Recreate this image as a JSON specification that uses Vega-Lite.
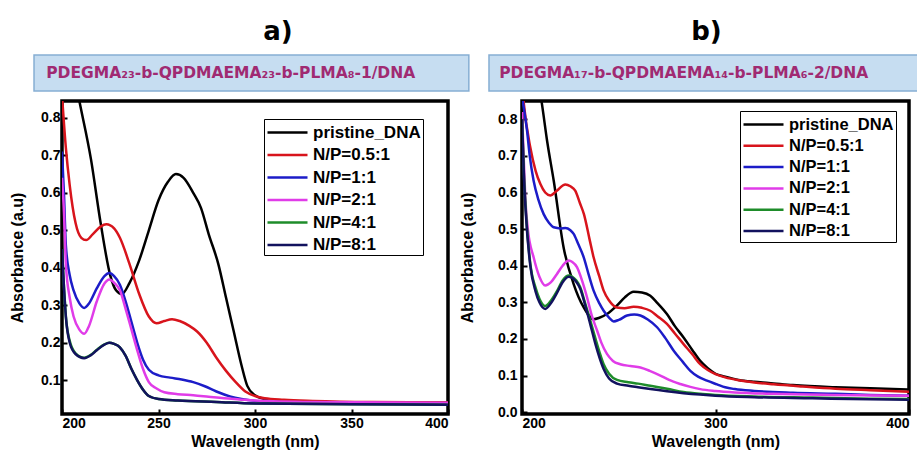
{
  "$schema": "https://vega.github.io/schema/vega-lite/v6.json",
  "background": "white",
  "padding": {"left": 7, "top": 19, "right": 0, "bottom": 0},
  "spacing": -13,
  "resolve": {"scale": {"color": "independent"}, "legend": {"color": "independent"}},
  "config": {
    "font": "Liberation Sans",
    "view": {"stroke": "black", "strokeWidth": 3.5},
    "axis": {"grid": false, "domain": false, "tickSize": -5, "tickColor": "black", "tickWidth": 2,
      "labelFont": "Liberation Sans", "labelFontWeight": "bold", "labelFontSize": 14, "labelColor": "black", "labelPadding": 7,
      "titleFont": "Liberation Sans", "titleFontWeight": "bold", "titleFontSize": 16, "titleColor": "black"},
    "legend": {"title": null, "symbolType": "M-1,0H3", "symbolSize": 400, "symbolStrokeWidth": 2.5,
      "labelFont": "Liberation Sans", "labelFontWeight": "bold", "labelFontSize": 17, "labelColor": "black",
      "strokeColor": "black", "fillColor": "white", "padding": 2, "rowPadding": 2.5, "labelOffset": 24},
    "title": {"font": "DejaVu Sans", "fontSize": 26, "fontWeight": "bold", "color": "black", "anchor": "middle", "offset": 9}
  },
  "datasets": {
    "a": [
      {"series": "pristine_DNA", "wavelength": 200, "absorbance": 1.1},
      {"series": "pristine_DNA", "wavelength": 205, "absorbance": 0.95},
      {"series": "pristine_DNA", "wavelength": 209, "absorbance": 0.845},
      {"series": "pristine_DNA", "wavelength": 215, "absorbance": 0.69},
      {"series": "pristine_DNA", "wavelength": 220, "absorbance": 0.52},
      {"series": "pristine_DNA", "wavelength": 225, "absorbance": 0.38},
      {"series": "pristine_DNA", "wavelength": 228, "absorbance": 0.34},
      {"series": "pristine_DNA", "wavelength": 231, "absorbance": 0.33},
      {"series": "pristine_DNA", "wavelength": 235, "absorbance": 0.36},
      {"series": "pristine_DNA", "wavelength": 240, "absorbance": 0.42},
      {"series": "pristine_DNA", "wavelength": 245, "absorbance": 0.5},
      {"series": "pristine_DNA", "wavelength": 250, "absorbance": 0.58},
      {"series": "pristine_DNA", "wavelength": 255, "absorbance": 0.63},
      {"series": "pristine_DNA", "wavelength": 259, "absorbance": 0.65},
      {"series": "pristine_DNA", "wavelength": 263, "absorbance": 0.64},
      {"series": "pristine_DNA", "wavelength": 268, "absorbance": 0.6},
      {"series": "pristine_DNA", "wavelength": 272, "absorbance": 0.56},
      {"series": "pristine_DNA", "wavelength": 276, "absorbance": 0.49},
      {"series": "pristine_DNA", "wavelength": 281, "absorbance": 0.41},
      {"series": "pristine_DNA", "wavelength": 285, "absorbance": 0.32},
      {"series": "pristine_DNA", "wavelength": 289, "absorbance": 0.23},
      {"series": "pristine_DNA", "wavelength": 293, "absorbance": 0.14},
      {"series": "pristine_DNA", "wavelength": 296, "absorbance": 0.085},
      {"series": "pristine_DNA", "wavelength": 300, "absorbance": 0.06},
      {"series": "pristine_DNA", "wavelength": 305, "absorbance": 0.05},
      {"series": "pristine_DNA", "wavelength": 310, "absorbance": 0.045},
      {"series": "pristine_DNA", "wavelength": 330, "absorbance": 0.042},
      {"series": "pristine_DNA", "wavelength": 360, "absorbance": 0.04},
      {"series": "pristine_DNA", "wavelength": 400, "absorbance": 0.04},

      {"series": "N/P=0.5:1", "wavelength": 200, "absorbance": 0.86},
      {"series": "N/P=0.5:1", "wavelength": 202, "absorbance": 0.72},
      {"series": "N/P=0.5:1", "wavelength": 204, "absorbance": 0.62},
      {"series": "N/P=0.5:1", "wavelength": 207, "absorbance": 0.52},
      {"series": "N/P=0.5:1", "wavelength": 210, "absorbance": 0.48},
      {"series": "N/P=0.5:1", "wavelength": 212.5, "absorbance": 0.474},
      {"series": "N/P=0.5:1", "wavelength": 216, "absorbance": 0.49},
      {"series": "N/P=0.5:1", "wavelength": 220, "absorbance": 0.51},
      {"series": "N/P=0.5:1", "wavelength": 223, "absorbance": 0.516},
      {"series": "N/P=0.5:1", "wavelength": 227, "absorbance": 0.505},
      {"series": "N/P=0.5:1", "wavelength": 230, "absorbance": 0.48},
      {"series": "N/P=0.5:1", "wavelength": 235, "absorbance": 0.41},
      {"series": "N/P=0.5:1", "wavelength": 240, "absorbance": 0.33},
      {"series": "N/P=0.5:1", "wavelength": 245, "absorbance": 0.27},
      {"series": "N/P=0.5:1", "wavelength": 249, "absorbance": 0.252},
      {"series": "N/P=0.5:1", "wavelength": 253, "absorbance": 0.258},
      {"series": "N/P=0.5:1", "wavelength": 257, "absorbance": 0.263},
      {"series": "N/P=0.5:1", "wavelength": 261, "absorbance": 0.258},
      {"series": "N/P=0.5:1", "wavelength": 266, "absorbance": 0.245},
      {"series": "N/P=0.5:1", "wavelength": 270, "absorbance": 0.23},
      {"series": "N/P=0.5:1", "wavelength": 275, "absorbance": 0.2},
      {"series": "N/P=0.5:1", "wavelength": 280, "absorbance": 0.16},
      {"series": "N/P=0.5:1", "wavelength": 285, "absorbance": 0.125},
      {"series": "N/P=0.5:1", "wavelength": 290, "absorbance": 0.095},
      {"series": "N/P=0.5:1", "wavelength": 295, "absorbance": 0.07},
      {"series": "N/P=0.5:1", "wavelength": 300, "absorbance": 0.058},
      {"series": "N/P=0.5:1", "wavelength": 305, "absorbance": 0.052},
      {"series": "N/P=0.5:1", "wavelength": 315, "absorbance": 0.048},
      {"series": "N/P=0.5:1", "wavelength": 330, "absorbance": 0.045},
      {"series": "N/P=0.5:1", "wavelength": 360, "absorbance": 0.042},
      {"series": "N/P=0.5:1", "wavelength": 400, "absorbance": 0.041},

      {"series": "N/P=1:1", "wavelength": 200, "absorbance": 0.71},
      {"series": "N/P=1:1", "wavelength": 201, "absorbance": 0.6},
      {"series": "N/P=1:1", "wavelength": 202, "absorbance": 0.46},
      {"series": "N/P=1:1", "wavelength": 204, "absorbance": 0.38},
      {"series": "N/P=1:1", "wavelength": 206, "absorbance": 0.34},
      {"series": "N/P=1:1", "wavelength": 209, "absorbance": 0.305},
      {"series": "N/P=1:1", "wavelength": 211.5, "absorbance": 0.293},
      {"series": "N/P=1:1", "wavelength": 214, "absorbance": 0.305},
      {"series": "N/P=1:1", "wavelength": 218, "absorbance": 0.345},
      {"series": "N/P=1:1", "wavelength": 222, "absorbance": 0.378},
      {"series": "N/P=1:1", "wavelength": 224.5, "absorbance": 0.386},
      {"series": "N/P=1:1", "wavelength": 227, "absorbance": 0.378},
      {"series": "N/P=1:1", "wavelength": 230, "absorbance": 0.355},
      {"series": "N/P=1:1", "wavelength": 233, "absorbance": 0.31},
      {"series": "N/P=1:1", "wavelength": 236, "absorbance": 0.255},
      {"series": "N/P=1:1", "wavelength": 239, "absorbance": 0.2},
      {"series": "N/P=1:1", "wavelength": 242, "absorbance": 0.155},
      {"series": "N/P=1:1", "wavelength": 245, "absorbance": 0.128},
      {"series": "N/P=1:1", "wavelength": 250, "absorbance": 0.113},
      {"series": "N/P=1:1", "wavelength": 256, "absorbance": 0.107},
      {"series": "N/P=1:1", "wavelength": 262, "absorbance": 0.102},
      {"series": "N/P=1:1", "wavelength": 268, "absorbance": 0.095},
      {"series": "N/P=1:1", "wavelength": 274, "absorbance": 0.084},
      {"series": "N/P=1:1", "wavelength": 280, "absorbance": 0.07},
      {"series": "N/P=1:1", "wavelength": 287, "absorbance": 0.057},
      {"series": "N/P=1:1", "wavelength": 293, "absorbance": 0.05},
      {"series": "N/P=1:1", "wavelength": 300, "absorbance": 0.045},
      {"series": "N/P=1:1", "wavelength": 320, "absorbance": 0.04},
      {"series": "N/P=1:1", "wavelength": 360, "absorbance": 0.038},
      {"series": "N/P=1:1", "wavelength": 400, "absorbance": 0.037},

      {"series": "N/P=2:1", "wavelength": 200, "absorbance": 0.64},
      {"series": "N/P=2:1", "wavelength": 201, "absorbance": 0.55},
      {"series": "N/P=2:1", "wavelength": 202, "absorbance": 0.41},
      {"series": "N/P=2:1", "wavelength": 204, "absorbance": 0.32},
      {"series": "N/P=2:1", "wavelength": 206, "absorbance": 0.27},
      {"series": "N/P=2:1", "wavelength": 209, "absorbance": 0.235},
      {"series": "N/P=2:1", "wavelength": 211.5, "absorbance": 0.224},
      {"series": "N/P=2:1", "wavelength": 214, "absorbance": 0.245},
      {"series": "N/P=2:1", "wavelength": 218, "absorbance": 0.31},
      {"series": "N/P=2:1", "wavelength": 222, "absorbance": 0.358},
      {"series": "N/P=2:1", "wavelength": 224.5, "absorbance": 0.369},
      {"series": "N/P=2:1", "wavelength": 227, "absorbance": 0.36},
      {"series": "N/P=2:1", "wavelength": 230, "absorbance": 0.34},
      {"series": "N/P=2:1", "wavelength": 233, "absorbance": 0.29},
      {"series": "N/P=2:1", "wavelength": 236, "absorbance": 0.235},
      {"series": "N/P=2:1", "wavelength": 239, "absorbance": 0.18},
      {"series": "N/P=2:1", "wavelength": 242, "absorbance": 0.13},
      {"series": "N/P=2:1", "wavelength": 245, "absorbance": 0.095},
      {"series": "N/P=2:1", "wavelength": 249, "absorbance": 0.078},
      {"series": "N/P=2:1", "wavelength": 253, "absorbance": 0.068},
      {"series": "N/P=2:1", "wavelength": 260, "absorbance": 0.063},
      {"series": "N/P=2:1", "wavelength": 268, "absorbance": 0.06},
      {"series": "N/P=2:1", "wavelength": 276, "absorbance": 0.056},
      {"series": "N/P=2:1", "wavelength": 284, "absorbance": 0.052},
      {"series": "N/P=2:1", "wavelength": 292, "absorbance": 0.049},
      {"series": "N/P=2:1", "wavelength": 300, "absorbance": 0.046},
      {"series": "N/P=2:1", "wavelength": 330, "absorbance": 0.042},
      {"series": "N/P=2:1", "wavelength": 400, "absorbance": 0.04},

      {"series": "N/P=4:1", "wavelength": 200, "absorbance": 0.45},
      {"series": "N/P=4:1", "wavelength": 201, "absorbance": 0.35},
      {"series": "N/P=4:1", "wavelength": 202, "absorbance": 0.27},
      {"series": "N/P=4:1", "wavelength": 204, "absorbance": 0.205},
      {"series": "N/P=4:1", "wavelength": 207, "absorbance": 0.172},
      {"series": "N/P=4:1", "wavelength": 211.5, "absorbance": 0.16},
      {"series": "N/P=4:1", "wavelength": 215, "absorbance": 0.168},
      {"series": "N/P=4:1", "wavelength": 218, "absorbance": 0.181},
      {"series": "N/P=4:1", "wavelength": 222, "absorbance": 0.196},
      {"series": "N/P=4:1", "wavelength": 224.5, "absorbance": 0.2},
      {"series": "N/P=4:1", "wavelength": 227, "absorbance": 0.197},
      {"series": "N/P=4:1", "wavelength": 230, "absorbance": 0.188},
      {"series": "N/P=4:1", "wavelength": 233, "absorbance": 0.165},
      {"series": "N/P=4:1", "wavelength": 236, "absorbance": 0.13},
      {"series": "N/P=4:1", "wavelength": 239, "absorbance": 0.1},
      {"series": "N/P=4:1", "wavelength": 242, "absorbance": 0.075},
      {"series": "N/P=4:1", "wavelength": 245, "absorbance": 0.058},
      {"series": "N/P=4:1", "wavelength": 250, "absorbance": 0.05},
      {"series": "N/P=4:1", "wavelength": 260, "absorbance": 0.046},
      {"series": "N/P=4:1", "wavelength": 280, "absorbance": 0.042},
      {"series": "N/P=4:1", "wavelength": 300, "absorbance": 0.038},
      {"series": "N/P=4:1", "wavelength": 350, "absorbance": 0.036},
      {"series": "N/P=4:1", "wavelength": 400, "absorbance": 0.035},

      {"series": "N/P=8:1", "wavelength": 200, "absorbance": 0.45},
      {"series": "N/P=8:1", "wavelength": 201, "absorbance": 0.35},
      {"series": "N/P=8:1", "wavelength": 202, "absorbance": 0.27},
      {"series": "N/P=8:1", "wavelength": 204, "absorbance": 0.2},
      {"series": "N/P=8:1", "wavelength": 207, "absorbance": 0.17},
      {"series": "N/P=8:1", "wavelength": 211.5, "absorbance": 0.159},
      {"series": "N/P=8:1", "wavelength": 215, "absorbance": 0.167},
      {"series": "N/P=8:1", "wavelength": 218, "absorbance": 0.18},
      {"series": "N/P=8:1", "wavelength": 222, "absorbance": 0.195},
      {"series": "N/P=8:1", "wavelength": 224.5, "absorbance": 0.2},
      {"series": "N/P=8:1", "wavelength": 227, "absorbance": 0.197},
      {"series": "N/P=8:1", "wavelength": 230, "absorbance": 0.188},
      {"series": "N/P=8:1", "wavelength": 233, "absorbance": 0.165},
      {"series": "N/P=8:1", "wavelength": 236, "absorbance": 0.13},
      {"series": "N/P=8:1", "wavelength": 239, "absorbance": 0.1},
      {"series": "N/P=8:1", "wavelength": 242, "absorbance": 0.075},
      {"series": "N/P=8:1", "wavelength": 245, "absorbance": 0.058},
      {"series": "N/P=8:1", "wavelength": 250, "absorbance": 0.05},
      {"series": "N/P=8:1", "wavelength": 260, "absorbance": 0.046},
      {"series": "N/P=8:1", "wavelength": 280, "absorbance": 0.042},
      {"series": "N/P=8:1", "wavelength": 300, "absorbance": 0.038},
      {"series": "N/P=8:1", "wavelength": 350, "absorbance": 0.036},
      {"series": "N/P=8:1", "wavelength": 400, "absorbance": 0.035}
    ],
    "b": [
      {"series": "pristine_DNA", "wavelength": 205, "absorbance": 1.0},
      {"series": "pristine_DNA", "wavelength": 210.3, "absorbance": 0.842},
      {"series": "pristine_DNA", "wavelength": 213, "absorbance": 0.74},
      {"series": "pristine_DNA", "wavelength": 216.4, "absorbance": 0.632},
      {"series": "pristine_DNA", "wavelength": 221.5, "absorbance": 0.45},
      {"series": "pristine_DNA", "wavelength": 226.7, "absorbance": 0.35},
      {"series": "pristine_DNA", "wavelength": 231.9, "absorbance": 0.286},
      {"series": "pristine_DNA", "wavelength": 237, "absorbance": 0.254},
      {"series": "pristine_DNA", "wavelength": 240, "absorbance": 0.258},
      {"series": "pristine_DNA", "wavelength": 243.9, "absorbance": 0.268},
      {"series": "pristine_DNA", "wavelength": 249, "absorbance": 0.291},
      {"series": "pristine_DNA", "wavelength": 253, "absorbance": 0.313},
      {"series": "pristine_DNA", "wavelength": 257.7, "absorbance": 0.329},
      {"series": "pristine_DNA", "wavelength": 262, "absorbance": 0.327},
      {"series": "pristine_DNA", "wavelength": 266.3, "absorbance": 0.318},
      {"series": "pristine_DNA", "wavelength": 270, "absorbance": 0.298},
      {"series": "pristine_DNA", "wavelength": 274.9, "absorbance": 0.268},
      {"series": "pristine_DNA", "wavelength": 279, "absorbance": 0.235},
      {"series": "pristine_DNA", "wavelength": 283.5, "absorbance": 0.204},
      {"series": "pristine_DNA", "wavelength": 288, "absorbance": 0.17},
      {"series": "pristine_DNA", "wavelength": 292.1, "absorbance": 0.14},
      {"series": "pristine_DNA", "wavelength": 296, "absorbance": 0.12},
      {"series": "pristine_DNA", "wavelength": 300, "absorbance": 0.105},
      {"series": "pristine_DNA", "wavelength": 305, "absorbance": 0.097},
      {"series": "pristine_DNA", "wavelength": 312, "absorbance": 0.088},
      {"series": "pristine_DNA", "wavelength": 320, "absorbance": 0.083},
      {"series": "pristine_DNA", "wavelength": 327.5, "absorbance": 0.08},
      {"series": "pristine_DNA", "wavelength": 340, "absorbance": 0.074},
      {"series": "pristine_DNA", "wavelength": 362, "absorbance": 0.068},
      {"series": "pristine_DNA", "wavelength": 380, "absorbance": 0.065},
      {"series": "pristine_DNA", "wavelength": 400, "absorbance": 0.062},

      {"series": "N/P=0.5:1", "wavelength": 200, "absorbance": 0.9},
      {"series": "N/P=0.5:1", "wavelength": 201, "absorbance": 0.84},
      {"series": "N/P=0.5:1", "wavelength": 204.3, "absorbance": 0.723},
      {"series": "N/P=0.5:1", "wavelength": 207, "absorbance": 0.66},
      {"series": "N/P=0.5:1", "wavelength": 209.5, "absorbance": 0.623},
      {"series": "N/P=0.5:1", "wavelength": 212, "absorbance": 0.6},
      {"series": "N/P=0.5:1", "wavelength": 214.6, "absorbance": 0.592},
      {"series": "N/P=0.5:1", "wavelength": 218, "absorbance": 0.605},
      {"series": "N/P=0.5:1", "wavelength": 222.4, "absorbance": 0.622},
      {"series": "N/P=0.5:1", "wavelength": 225, "absorbance": 0.617},
      {"series": "N/P=0.5:1", "wavelength": 227.5, "absorbance": 0.605},
      {"series": "N/P=0.5:1", "wavelength": 230, "absorbance": 0.57},
      {"series": "N/P=0.5:1", "wavelength": 232, "absorbance": 0.541},
      {"series": "N/P=0.5:1", "wavelength": 235, "absorbance": 0.47},
      {"series": "N/P=0.5:1", "wavelength": 237, "absorbance": 0.423},
      {"series": "N/P=0.5:1", "wavelength": 240, "absorbance": 0.37},
      {"series": "N/P=0.5:1", "wavelength": 242.2, "absorbance": 0.332},
      {"series": "N/P=0.5:1", "wavelength": 245, "absorbance": 0.305},
      {"series": "N/P=0.5:1", "wavelength": 249, "absorbance": 0.286},
      {"series": "N/P=0.5:1", "wavelength": 253, "absorbance": 0.284},
      {"series": "N/P=0.5:1", "wavelength": 257.7, "absorbance": 0.288},
      {"series": "N/P=0.5:1", "wavelength": 262, "absorbance": 0.285},
      {"series": "N/P=0.5:1", "wavelength": 266.3, "absorbance": 0.277},
      {"series": "N/P=0.5:1", "wavelength": 270, "absorbance": 0.262},
      {"series": "N/P=0.5:1", "wavelength": 274.9, "absorbance": 0.241},
      {"series": "N/P=0.5:1", "wavelength": 279, "absorbance": 0.215},
      {"series": "N/P=0.5:1", "wavelength": 283.5, "absorbance": 0.186},
      {"series": "N/P=0.5:1", "wavelength": 288, "absorbance": 0.158},
      {"series": "N/P=0.5:1", "wavelength": 292.1, "absorbance": 0.131},
      {"series": "N/P=0.5:1", "wavelength": 296, "absorbance": 0.115},
      {"series": "N/P=0.5:1", "wavelength": 300, "absorbance": 0.104},
      {"series": "N/P=0.5:1", "wavelength": 305, "absorbance": 0.095},
      {"series": "N/P=0.5:1", "wavelength": 312, "absorbance": 0.087},
      {"series": "N/P=0.5:1", "wavelength": 320, "absorbance": 0.081},
      {"series": "N/P=0.5:1", "wavelength": 330, "absorbance": 0.076},
      {"series": "N/P=0.5:1", "wavelength": 345, "absorbance": 0.07},
      {"series": "N/P=0.5:1", "wavelength": 362, "absorbance": 0.064},
      {"series": "N/P=0.5:1", "wavelength": 380, "absorbance": 0.06},
      {"series": "N/P=0.5:1", "wavelength": 400, "absorbance": 0.056},

      {"series": "N/P=1:1", "wavelength": 200, "absorbance": 0.86},
      {"series": "N/P=1:1", "wavelength": 202.6, "absorbance": 0.769},
      {"series": "N/P=1:1", "wavelength": 204, "absorbance": 0.7},
      {"series": "N/P=1:1", "wavelength": 206, "absorbance": 0.632},
      {"series": "N/P=1:1", "wavelength": 208.5, "absorbance": 0.58},
      {"series": "N/P=1:1", "wavelength": 211.2, "absorbance": 0.541},
      {"series": "N/P=1:1", "wavelength": 214, "absorbance": 0.517},
      {"series": "N/P=1:1", "wavelength": 216.4, "absorbance": 0.505},
      {"series": "N/P=1:1", "wavelength": 220, "absorbance": 0.502},
      {"series": "N/P=1:1", "wavelength": 222.4, "absorbance": 0.503},
      {"series": "N/P=1:1", "wavelength": 225, "absorbance": 0.497},
      {"series": "N/P=1:1", "wavelength": 226.7, "absorbance": 0.487},
      {"series": "N/P=1:1", "wavelength": 229, "absorbance": 0.46},
      {"series": "N/P=1:1", "wavelength": 231.9, "absorbance": 0.423},
      {"series": "N/P=1:1", "wavelength": 234.5, "absorbance": 0.375},
      {"series": "N/P=1:1", "wavelength": 237, "absorbance": 0.332},
      {"series": "N/P=1:1", "wavelength": 240, "absorbance": 0.297},
      {"series": "N/P=1:1", "wavelength": 242.2, "absorbance": 0.277},
      {"series": "N/P=1:1", "wavelength": 245, "absorbance": 0.258},
      {"series": "N/P=1:1", "wavelength": 247.4, "absorbance": 0.248},
      {"series": "N/P=1:1", "wavelength": 250, "absorbance": 0.252},
      {"series": "N/P=1:1", "wavelength": 254.3, "absorbance": 0.264},
      {"series": "N/P=1:1", "wavelength": 258, "absorbance": 0.267},
      {"series": "N/P=1:1", "wavelength": 261.2, "absorbance": 0.264},
      {"series": "N/P=1:1", "wavelength": 265, "absorbance": 0.253},
      {"series": "N/P=1:1", "wavelength": 269.8, "absorbance": 0.232},
      {"series": "N/P=1:1", "wavelength": 274, "absorbance": 0.203},
      {"series": "N/P=1:1", "wavelength": 278.4, "absorbance": 0.168},
      {"series": "N/P=1:1", "wavelength": 283, "absorbance": 0.138},
      {"series": "N/P=1:1", "wavelength": 287, "absorbance": 0.113},
      {"series": "N/P=1:1", "wavelength": 291, "absorbance": 0.097},
      {"series": "N/P=1:1", "wavelength": 295.6, "absorbance": 0.086},
      {"series": "N/P=1:1", "wavelength": 300.8, "absorbance": 0.076},
      {"series": "N/P=1:1", "wavelength": 305, "absorbance": 0.068},
      {"series": "N/P=1:1", "wavelength": 310, "absorbance": 0.063},
      {"series": "N/P=1:1", "wavelength": 320, "absorbance": 0.058},
      {"series": "N/P=1:1", "wavelength": 340, "absorbance": 0.053},
      {"series": "N/P=1:1", "wavelength": 362, "absorbance": 0.05},
      {"series": "N/P=1:1", "wavelength": 380, "absorbance": 0.047},
      {"series": "N/P=1:1", "wavelength": 400, "absorbance": 0.045},

      {"series": "N/P=2:1", "wavelength": 200, "absorbance": 0.82},
      {"series": "N/P=2:1", "wavelength": 201, "absorbance": 0.68},
      {"series": "N/P=2:1", "wavelength": 201.7, "absorbance": 0.587},
      {"series": "N/P=2:1", "wavelength": 203, "absorbance": 0.5},
      {"series": "N/P=2:1", "wavelength": 206, "absorbance": 0.423},
      {"series": "N/P=2:1", "wavelength": 209, "absorbance": 0.37},
      {"series": "N/P=2:1", "wavelength": 212, "absorbance": 0.346},
      {"series": "N/P=2:1", "wavelength": 215, "absorbance": 0.355},
      {"series": "N/P=2:1", "wavelength": 218, "absorbance": 0.377},
      {"series": "N/P=2:1", "wavelength": 221, "absorbance": 0.4},
      {"series": "N/P=2:1", "wavelength": 224.1, "absorbance": 0.414},
      {"series": "N/P=2:1", "wavelength": 226, "absorbance": 0.41},
      {"series": "N/P=2:1", "wavelength": 228.4, "absorbance": 0.396},
      {"series": "N/P=2:1", "wavelength": 231, "absorbance": 0.36},
      {"series": "N/P=2:1", "wavelength": 233.6, "absorbance": 0.314},
      {"series": "N/P=2:1", "wavelength": 236, "absorbance": 0.265},
      {"series": "N/P=2:1", "wavelength": 238.8, "absorbance": 0.223},
      {"series": "N/P=2:1", "wavelength": 241, "absorbance": 0.19},
      {"series": "N/P=2:1", "wavelength": 243.9, "absorbance": 0.159},
      {"series": "N/P=2:1", "wavelength": 247, "absorbance": 0.14},
      {"series": "N/P=2:1", "wavelength": 250.8, "absorbance": 0.131},
      {"series": "N/P=2:1", "wavelength": 256, "absorbance": 0.126},
      {"series": "N/P=2:1", "wavelength": 261.2, "absorbance": 0.122},
      {"series": "N/P=2:1", "wavelength": 266, "absorbance": 0.113},
      {"series": "N/P=2:1", "wavelength": 271.5, "absorbance": 0.1},
      {"series": "N/P=2:1", "wavelength": 276, "absorbance": 0.088},
      {"series": "N/P=2:1", "wavelength": 281.8, "absorbance": 0.077},
      {"series": "N/P=2:1", "wavelength": 287, "absorbance": 0.069},
      {"series": "N/P=2:1", "wavelength": 292.1, "absorbance": 0.063},
      {"series": "N/P=2:1", "wavelength": 300, "absorbance": 0.058},
      {"series": "N/P=2:1", "wavelength": 310, "absorbance": 0.054},
      {"series": "N/P=2:1", "wavelength": 330, "absorbance": 0.05},
      {"series": "N/P=2:1", "wavelength": 360, "absorbance": 0.047},
      {"series": "N/P=2:1", "wavelength": 400, "absorbance": 0.045},

      {"series": "N/P=4:1", "wavelength": 200, "absorbance": 0.8},
      {"series": "N/P=4:1", "wavelength": 201, "absorbance": 0.65},
      {"series": "N/P=4:1", "wavelength": 202, "absorbance": 0.55},
      {"series": "N/P=4:1", "wavelength": 204.3, "absorbance": 0.405},
      {"series": "N/P=4:1", "wavelength": 207, "absorbance": 0.34},
      {"series": "N/P=4:1", "wavelength": 209, "absorbance": 0.31},
      {"series": "N/P=4:1", "wavelength": 212, "absorbance": 0.29},
      {"series": "N/P=4:1", "wavelength": 215, "absorbance": 0.305},
      {"series": "N/P=4:1", "wavelength": 218, "absorbance": 0.33},
      {"series": "N/P=4:1", "wavelength": 221, "absorbance": 0.36},
      {"series": "N/P=4:1", "wavelength": 224.1, "absorbance": 0.373},
      {"series": "N/P=4:1", "wavelength": 226, "absorbance": 0.37},
      {"series": "N/P=4:1", "wavelength": 228, "absorbance": 0.36},
      {"series": "N/P=4:1", "wavelength": 230.1, "absorbance": 0.341},
      {"series": "N/P=4:1", "wavelength": 232.5, "absorbance": 0.3},
      {"series": "N/P=4:1", "wavelength": 235.3, "absorbance": 0.25},
      {"series": "N/P=4:1", "wavelength": 238, "absorbance": 0.2},
      {"series": "N/P=4:1", "wavelength": 240, "absorbance": 0.165},
      {"series": "N/P=4:1", "wavelength": 242.2, "absorbance": 0.131},
      {"series": "N/P=4:1", "wavelength": 245, "absorbance": 0.105},
      {"series": "N/P=4:1", "wavelength": 249.1, "absorbance": 0.088},
      {"series": "N/P=4:1", "wavelength": 255, "absorbance": 0.082},
      {"series": "N/P=4:1", "wavelength": 260, "absorbance": 0.078},
      {"series": "N/P=4:1", "wavelength": 266.3, "absorbance": 0.072},
      {"series": "N/P=4:1", "wavelength": 275, "absorbance": 0.064},
      {"series": "N/P=4:1", "wavelength": 283.5, "absorbance": 0.055},
      {"series": "N/P=4:1", "wavelength": 292, "absorbance": 0.05},
      {"series": "N/P=4:1", "wavelength": 300, "absorbance": 0.047},
      {"series": "N/P=4:1", "wavelength": 320, "absorbance": 0.043},
      {"series": "N/P=4:1", "wavelength": 350, "absorbance": 0.04},
      {"series": "N/P=4:1", "wavelength": 380, "absorbance": 0.037},
      {"series": "N/P=4:1", "wavelength": 400, "absorbance": 0.036},

      {"series": "N/P=8:1", "wavelength": 200, "absorbance": 0.8},
      {"series": "N/P=8:1", "wavelength": 201, "absorbance": 0.64},
      {"series": "N/P=8:1", "wavelength": 202, "absorbance": 0.54},
      {"series": "N/P=8:1", "wavelength": 204.3, "absorbance": 0.4},
      {"series": "N/P=8:1", "wavelength": 207, "absorbance": 0.33},
      {"series": "N/P=8:1", "wavelength": 209, "absorbance": 0.3},
      {"series": "N/P=8:1", "wavelength": 212, "absorbance": 0.282},
      {"series": "N/P=8:1", "wavelength": 215, "absorbance": 0.298},
      {"series": "N/P=8:1", "wavelength": 218, "absorbance": 0.325},
      {"series": "N/P=8:1", "wavelength": 221, "absorbance": 0.355},
      {"series": "N/P=8:1", "wavelength": 224.1, "absorbance": 0.37},
      {"series": "N/P=8:1", "wavelength": 226, "absorbance": 0.367},
      {"series": "N/P=8:1", "wavelength": 228, "absorbance": 0.356},
      {"series": "N/P=8:1", "wavelength": 230.1, "absorbance": 0.337},
      {"series": "N/P=8:1", "wavelength": 232.5, "absorbance": 0.295},
      {"series": "N/P=8:1", "wavelength": 235.3, "absorbance": 0.24},
      {"series": "N/P=8:1", "wavelength": 238, "absorbance": 0.185},
      {"series": "N/P=8:1", "wavelength": 240, "absorbance": 0.15},
      {"series": "N/P=8:1", "wavelength": 242.2, "absorbance": 0.118},
      {"series": "N/P=8:1", "wavelength": 245, "absorbance": 0.092},
      {"series": "N/P=8:1", "wavelength": 249.1, "absorbance": 0.078},
      {"series": "N/P=8:1", "wavelength": 255, "absorbance": 0.072},
      {"series": "N/P=8:1", "wavelength": 260, "absorbance": 0.068},
      {"series": "N/P=8:1", "wavelength": 266.3, "absorbance": 0.063},
      {"series": "N/P=8:1", "wavelength": 275, "absorbance": 0.057},
      {"series": "N/P=8:1", "wavelength": 283.5, "absorbance": 0.052},
      {"series": "N/P=8:1", "wavelength": 292, "absorbance": 0.048},
      {"series": "N/P=8:1", "wavelength": 300, "absorbance": 0.045},
      {"series": "N/P=8:1", "wavelength": 320, "absorbance": 0.041},
      {"series": "N/P=8:1", "wavelength": 350, "absorbance": 0.038},
      {"series": "N/P=8:1", "wavelength": 380, "absorbance": 0.035},
      {"series": "N/P=8:1", "wavelength": 400, "absorbance": 0.034}
    ]
  },
  "hconcat": [
    {
      "spacing": 7,
      "vconcat": [
        {
          "width": 386, "height": 36,
          "view": {"stroke": null},
          "title": {"text": "a)", "dx": 23},
          "data": {"values": [{"label": "PDEGMA₂₃-b-QPDMAEMA₂₃-b-PLMA₈-1/DNA"}]},
          "layer": [
            {"mark": {"type": "rect", "fill": "#c6ddf1", "stroke": "#86aed3", "strokeWidth": 1.5},
             "encoding": {
               "x": {"datum": -0.0725, "type": "quantitative", "scale": {"domain": [0, 1]}, "axis": null},
               "x2": {"datum": 1.054},
               "y": {"datum": 0, "type": "quantitative", "scale": {"domain": [0, 1]}, "axis": null},
               "y2": {"datum": 1}}},
            {"mark": {"type": "text", "align": "left", "baseline": "middle", "font": "DejaVu Sans", "fontWeight": "bold", "fontSize": 15.5, "color": "#a02a72"},
             "encoding": {
               "x": {"datum": -0.041, "type": "quantitative"},
               "y": {"datum": 0.5, "type": "quantitative"},
               "text": {"field": "label"}}}
          ]
        },
        {
          "width": 386, "height": 313,
          "data": {"name": "a"},
          "mark": {"type": "line", "strokeWidth": 2.5, "clip": true, "interpolate": "monotone"},
          "encoding": {
            "x": {"field": "wavelength", "type": "quantitative", "scale": {"domain": [200, 400], "nice": false},
                  "axis": {"values": [200, 250, 300, 350, 400], "title": "Wavelength (nm)", "titlePadding": 3}},
            "y": {"field": "absorbance", "type": "quantitative", "scale": {"domain": [0.01, 0.845], "nice": false, "zero": false},
                  "axis": {"values": [0.1, 0.2, 0.3, 0.4, 0.5, 0.6, 0.7, 0.8], "format": ".1f", "title": "Absorbance (a.u)", "titlePadding": 15}},
            "color": {"field": "series", "type": "nominal",
                      "scale": {"domain": ["pristine_DNA", "N/P=0.5:1", "N/P=1:1", "N/P=2:1", "N/P=4:1", "N/P=8:1"],
                                "range": ["#000000", "#d8141c", "#1c1cc8", "#e03ce8", "#1e8c2a", "#12125e"]},
                      "legend": {"orient": "none", "legendX": 202, "legendY": 64}}
          }
        }
      ]
    },
    {
      "spacing": 7,
      "vconcat": [
        {
          "width": 387, "height": 36,
          "view": {"stroke": null},
          "title": {"text": "b)", "dx": -9},
          "data": {"values": [{"label": "PDEGMA₁₇-b-QPDMAEMA₁₄-b-PLMA₆-2/DNA"}]},
          "layer": [
            {"mark": {"type": "rect", "fill": "#c6ddf1", "stroke": "#86aed3", "strokeWidth": 1.5},
             "encoding": {
               "x": {"datum": -0.0853, "type": "quantitative", "scale": {"domain": [0, 1]}, "axis": null},
               "x2": {"datum": 1.03},
               "y": {"datum": 0, "type": "quantitative", "scale": {"domain": [0, 1]}, "axis": null},
               "y2": {"datum": 1}}},
            {"mark": {"type": "text", "align": "left", "baseline": "middle", "font": "DejaVu Sans", "fontWeight": "bold", "fontSize": 15.5, "color": "#a02a72"},
             "encoding": {
               "x": {"datum": -0.059, "type": "quantitative"},
               "y": {"datum": 0.5, "type": "quantitative"},
               "text": {"field": "label"}}}
          ]
        },
        {
          "width": 387, "height": 313,
          "data": {"name": "b"},
          "mark": {"type": "line", "strokeWidth": 2.5, "clip": true, "interpolate": "monotone"},
          "encoding": {
            "x": {"field": "wavelength", "type": "quantitative", "scale": {"domain": [200, 400], "nice": false},
                  "axis": {"values": [200, 300, 400], "title": "Wavelength (nm)", "titlePadding": 3}},
            "y": {"field": "absorbance", "type": "quantitative", "scale": {"domain": [-0.005, 0.85], "nice": false, "zero": false},
                  "axis": {"values": [0, 0.1, 0.2, 0.3, 0.4, 0.5, 0.6, 0.7, 0.8], "format": ".1f", "title": "Absorbance (a.u)", "titlePadding": 22, "labelPadding": 10}},
            "color": {"field": "series", "type": "nominal",
                      "scale": {"domain": ["pristine_DNA", "N/P=0.5:1", "N/P=1:1", "N/P=2:1", "N/P=4:1", "N/P=8:1"],
                                "range": ["#000000", "#d8141c", "#1c1cc8", "#e03ce8", "#1e8c2a", "#12125e"]},
                      "legend": {"orient": "none", "legendX": 218, "legendY": 56, "labelFontSize": 16.5, "rowPadding": 1.3}}
          }
        }
      ]
    }
  ]
}
